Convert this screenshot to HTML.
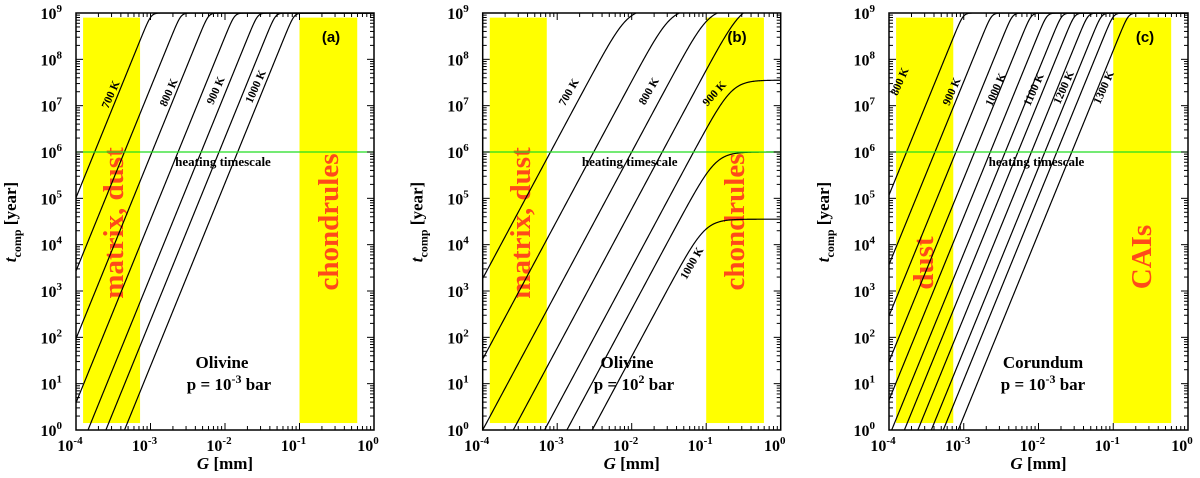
<!DOCTYPE html>
<html><head><meta charset="utf-8"><style>
html,body{margin:0;padding:0;background:#fff;overflow:hidden;width:1200px;height:478px;}
svg{display:block;font-family:"Liberation Serif",serif;overflow:hidden;}
</style></head><body>
<svg id="fig" width="1200" height="478" viewBox="0 0 1200 478"></svg>
<script>
// ---- data: log10(G [mm]) where each curve crosses t=1e6 yr, slope, saturation caps (log10 t)
const panelAG6 = [-3.75, -3.35, -2.98, -2.63, -2.32, -2.08, -1.83];
const panelACaps = [9, 9, 9, 9, 9, 9, 9];
const panelASlope = 3.95;
const panelBG6 = [-3.09, -2.51, -2.0, -1.59, -1.17, -0.87, -0.53];
const panelBCaps = [9.1, 9.1, 9.1, 9.2, 7.55, 6.0, 4.55];
const panelBSlope = 3.0;
const panelCG6 = [-3.765, -3.385, -3.105, -2.855, -2.645, -2.445, -2.275, -2.095, -1.915, -1.755, -1.555];
const panelCCaps = [9, 9, 9, 9, 9, 9, 9, 9, 9, 9, 9];
const panelCSlope = 3.95;
const yTickLabels = ["0","1","2","3","4","5","6","7","8","9"];
const xTickLabels = ["-4","-3","-2","-1","0"];
const heatingLog = 6;

const NS = "http://www.w3.org/2000/svg";
const svg = document.getElementById("fig");
function el(tag, attrs, parent, text) {
  const e = document.createElementNS(NS, tag);
  for (const k in attrs) e.setAttribute(k, attrs[k]);
  if (text !== undefined) e.textContent = text;
  (parent || svg).appendChild(e);
  return e;
}

function drawPanel(p) {
  const g = el("g", {});
  
  
  const X = v => p.x0 + (v + 4) * (p.x1 - p.x0) / 4;
  const Y = v => 430 - v * (430 - 13) / 9;
  for (const b of p.bands) {
    const r = el("rect", {x: X(b[0]), y: Y(8.9), width: X(b[1]) - X(b[0]), height: Y(0.15) - Y(8.9), fill: "#ffff00"}, g);
    
    
  }
  for (const t of p.bandText) {
    const tx = el("text", {x: 0, y: 0, transform: `translate(${t[0]},${t[1]}) rotate(-90)`, "text-anchor": "middle", "font-size": t[3], "font-weight": "bold", fill: "#ff4a1a"}, g, t[2]);
    
    
  }
  const cp = el("clipPath", {id: "clip" + p.id}, g);
  el("rect", {x: p.x0, y: 13, width: p.x1 - p.x0, height: 417}, cp);
  p.g6.forEach((g6, i) => {
    let d = "";
    for (let lx = -4; lx <= 0.0001; lx += 0.01) {
      const lin = heatingLog + p.slope * (lx - g6);
      const cap = p.caps[i];
      const k = p.k;
      const lt = -Math.log10(Math.pow(10, -k * lin) + Math.pow(10, -k * cap)) / k;
      d += (d ? "L" : "M") + X(lx).toFixed(2) + "," + Y(lt).toFixed(2);
    }
    const path = el("path", {d: d, fill: "none", stroke: "#000", "stroke-width": 1.2, "clip-path": `url(#clip${p.id})`}, g);
    
    
  });
  const hl = el("line", {x1: p.x0, x2: p.x1, y1: Y(heatingLog), y2: Y(heatingLog), stroke: "#22dd22", "stroke-width": 1.3}, g);
  
  
  const ht = el("text", {x: (p.x0 + p.x1) / 2 - 2, y: Y(heatingLog) + 14, "text-anchor": "middle", "font-size": 13, "font-weight": "bold"}, g, "heating timescale");
  
  
  for (const l of p.labels) {
    const t = el("text", {transform: `translate(${l[0]},${l[1]}) rotate(${l[3]})`, "text-anchor": "middle", "font-size": 11.5, "font-weight": "bold"}, g, l[2]);
    
    
  }
  const fr = el("rect", {x: p.x0, y: 13, width: p.x1 - p.x0, height: 417, fill: "none", stroke: "#000", "stroke-width": 1.5}, g);
  
  
  for (let dec = 0; dec < 9; dec++) {
    for (let m = 1; m < 10; m++) {
      const v = dec + Math.log10(m);
      const len = m === 1 ? 7 : 4;
      el("line", {x1: p.x0, x2: p.x0 + len, y1: Y(v), y2: Y(v), stroke: "#000", "stroke-width": 1}, g);
      el("line", {x1: p.x1, x2: p.x1 - len, y1: Y(v), y2: Y(v), stroke: "#000", "stroke-width": 1}, g);
    }
  }
  for (let dec = -4; dec < 0; dec++) {
    for (let m = 1; m < 10; m++) {
      const v = dec + Math.log10(m);
      const len = m === 1 ? 7 : 4;
      el("line", {x1: X(v), x2: X(v), y1: 430, y2: 430 - len, stroke: "#000", "stroke-width": 1}, g);
      el("line", {x1: X(v), x2: X(v), y1: 13, y2: 13 + len, stroke: "#000", "stroke-width": 1}, g);
    }
  }
  yTickLabels.forEach((lab, i) => {
    const t = el("text", {x: p.x0 - 14, y: Y(i) + 6, "text-anchor": "end", "font-size": 16, "font-weight": "bold"}, g, "10");
    el("tspan", {dy: -7, "font-size": 11}, t, lab);
    
    
  });
  xTickLabels.forEach((lab, i) => {
    const t = el("text", {x: X(i - 4) - 6, y: 451, "text-anchor": "middle", "font-size": 16, "font-weight": "bold"}, g, "10");
    el("tspan", {dy: -7, "font-size": 11}, t, lab);
    
    
  });
  const xt = el("text", {x: (p.x0 + p.x1) / 2, y: 469, "text-anchor": "middle", "font-size": 17, "font-weight": "bold"}, g);
  el("tspan", {"font-style": "italic"}, xt, "G");
  el("tspan", {}, xt, " [mm]");
  
  
  const yt = el("text", {transform: `translate(${p.x0 - 60},222) rotate(-90)`, "text-anchor": "middle", "font-size": 17, "font-weight": "bold"}, g);
  el("tspan", {"font-style": "italic"}, yt, "t");
  el("tspan", {dy: 5, "font-size": 12}, yt, "comp");
  el("tspan", {dy: -5}, yt, " [year]");
  
  
  const tag = el("text", {x: p.tag[0], y: p.tag[1], "text-anchor": "middle", "font-size": 15, "font-weight": "bold", "font-family": "Liberation Sans, sans-serif"}, g, p.tag[2]);
  
  
  const m1 = el("text", {x: p.mat[0], y: 368, "text-anchor": "middle", "font-size": 17, "font-weight": "bold"}, g, p.mat[1]);
  
  
  const m2 = el("text", {x: p.mat[0] + p.mat[4], y: 390, "text-anchor": "middle", "font-size": 17, "font-weight": "bold"}, g, "p = 10");
  el("tspan", {dy: -7, "font-size": 12}, m2, p.mat[2]);
  el("tspan", {dy: 7}, m2, " bar");
  
  
}

drawPanel({id: "a", x0: 76, x1: 374, g6: panelAG6, caps: panelACaps, slope: panelASlope, k: 4,
  bands: [[-3.905, -3.14], [-1, -0.225]],
  bandText: [[123, 223, "matrix, dust", 29], [338, 222, "chondrules", 29]],
  labels: [[114, 96, "700 K", -66], [172, 94, "800 K", -66], [219, 92, "900 K", -66], [259, 88, "1000 K", -66]],
  tag: [331, 42, "(a)"], mat: [222, "Olivine", "-3", 0, 7]});
drawPanel({id: "b", x0: 482.7, x1: 780.7, g6: panelBG6, caps: panelBCaps, slope: panelBSlope, k: 1.3,
  bands: [[-3.905, -3.14], [-1, -0.225]],
  bandText: [[530, 223, "matrix, dust", 29], [744, 222, "chondrules", 29]],
  labels: [[572, 94, "700 K", -60], [652, 93, "800 K", -60], [717, 96, "900 K", -48], [695, 265, "1000 K", -60]],
  tag: [737, 42, "(b)"], mat: [627, "Olivine", "2", 0, 7]});
drawPanel({id: "c", x0: 889, x1: 1188, g6: panelCG6, caps: panelCCaps, slope: panelCSlope, k: 4,
  bands: [[-3.905, -3.14], [-1, -0.225]],
  bandText: [[933, 263, "dust", 29], [1151, 257, "CAIs", 29]],
  labels: [[903, 83, "800 K", -66], [955, 93, "900 K", -66], [999, 91, "1000 K", -66], [1037, 91, "1100 K", -66], [1067, 89, "1200 K", -66], [1107, 89, "1300 K", -66]],
  tag: [1145, 42, "(c)"], mat: [1043, "Corundum", "-3", 0, 0]});
</script>
</body></html>
